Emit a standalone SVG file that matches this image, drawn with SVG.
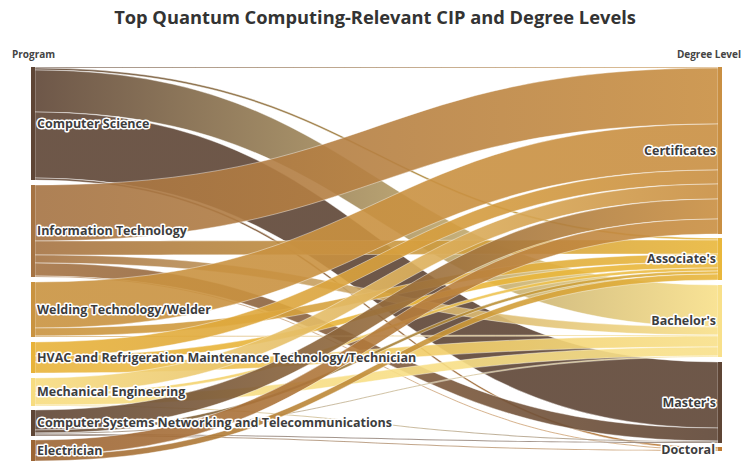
<svg xmlns="http://www.w3.org/2000/svg" width="755" height="461" viewBox="0 0 755 461">
<style>
.title{font-family:"Open Sans","Liberation Sans",sans-serif;font-weight:700;font-size:18.3px;fill:#333}
.axis{font-family:"Open Sans","Liberation Sans",sans-serif;font-weight:700;font-size:10px;fill:#444}
.lbl{font-family:"Open Sans","Liberation Sans",sans-serif;font-weight:700;font-size:12.5px;fill:#3d3d3d;stroke:#fff;stroke-width:3;stroke-linejoin:round;paint-order:stroke}
.r{text-anchor:end}
.lk path{fill-opacity:0.9;stroke:#fff;stroke-width:0.6;stroke-opacity:0.7}
</style>
<defs>
<linearGradient id="dk-ce" gradientUnits="userSpaceOnUse" x1="35" y1="0" x2="718" y2="0"><stop offset="0" stop-color="#5e4535"/><stop offset="1" stop-color="#c98f42"/></linearGradient>
<linearGradient id="dk-as" gradientUnits="userSpaceOnUse" x1="35" y1="0" x2="718" y2="0"><stop offset="0" stop-color="#5e4535"/><stop offset="1" stop-color="#e9b73b"/></linearGradient>
<linearGradient id="dk-ba" gradientUnits="userSpaceOnUse" x1="35" y1="0" x2="718" y2="0"><stop offset="0" stop-color="#5e4535"/><stop offset="1" stop-color="#f8e08a"/></linearGradient>
<linearGradient id="dk-ma" gradientUnits="userSpaceOnUse" x1="35" y1="0" x2="718" y2="0"><stop offset="0" stop-color="#5e4535"/><stop offset="1" stop-color="#5e4535"/></linearGradient>
<linearGradient id="dk-do" gradientUnits="userSpaceOnUse" x1="35" y1="0" x2="718" y2="0"><stop offset="0" stop-color="#5e4535"/><stop offset="1" stop-color="#bf7a30"/></linearGradient>
<linearGradient id="it-ce" gradientUnits="userSpaceOnUse" x1="35" y1="0" x2="718" y2="0"><stop offset="0" stop-color="#a57343"/><stop offset="1" stop-color="#c98f42"/></linearGradient>
<linearGradient id="it-as" gradientUnits="userSpaceOnUse" x1="35" y1="0" x2="718" y2="0"><stop offset="0" stop-color="#a57343"/><stop offset="1" stop-color="#e9b73b"/></linearGradient>
<linearGradient id="it-ba" gradientUnits="userSpaceOnUse" x1="35" y1="0" x2="718" y2="0"><stop offset="0" stop-color="#a57343"/><stop offset="1" stop-color="#f8e08a"/></linearGradient>
<linearGradient id="it-ma" gradientUnits="userSpaceOnUse" x1="35" y1="0" x2="718" y2="0"><stop offset="0" stop-color="#a57343"/><stop offset="1" stop-color="#5e4535"/></linearGradient>
<linearGradient id="it-do" gradientUnits="userSpaceOnUse" x1="35" y1="0" x2="718" y2="0"><stop offset="0" stop-color="#a57343"/><stop offset="1" stop-color="#bf7a30"/></linearGradient>
<linearGradient id="we-ce" gradientUnits="userSpaceOnUse" x1="35" y1="0" x2="718" y2="0"><stop offset="0" stop-color="#c99340"/><stop offset="1" stop-color="#c98f42"/></linearGradient>
<linearGradient id="we-as" gradientUnits="userSpaceOnUse" x1="35" y1="0" x2="718" y2="0"><stop offset="0" stop-color="#c99340"/><stop offset="1" stop-color="#e9b73b"/></linearGradient>
<linearGradient id="we-ba" gradientUnits="userSpaceOnUse" x1="35" y1="0" x2="718" y2="0"><stop offset="0" stop-color="#c99340"/><stop offset="1" stop-color="#f8e08a"/></linearGradient>
<linearGradient id="hv-ce" gradientUnits="userSpaceOnUse" x1="35" y1="0" x2="718" y2="0"><stop offset="0" stop-color="#e8b33a"/><stop offset="1" stop-color="#c98f42"/></linearGradient>
<linearGradient id="hv-as" gradientUnits="userSpaceOnUse" x1="35" y1="0" x2="718" y2="0"><stop offset="0" stop-color="#e8b33a"/><stop offset="1" stop-color="#e9b73b"/></linearGradient>
<linearGradient id="hv-ba" gradientUnits="userSpaceOnUse" x1="35" y1="0" x2="718" y2="0"><stop offset="0" stop-color="#e8b33a"/><stop offset="1" stop-color="#f8e08a"/></linearGradient>
<linearGradient id="me-ce" gradientUnits="userSpaceOnUse" x1="35" y1="0" x2="718" y2="0"><stop offset="0" stop-color="#f7dc80"/><stop offset="1" stop-color="#c98f42"/></linearGradient>
<linearGradient id="me-as" gradientUnits="userSpaceOnUse" x1="35" y1="0" x2="718" y2="0"><stop offset="0" stop-color="#f7dc80"/><stop offset="1" stop-color="#e9b73b"/></linearGradient>
<linearGradient id="me-ba" gradientUnits="userSpaceOnUse" x1="35" y1="0" x2="718" y2="0"><stop offset="0" stop-color="#f7dc80"/><stop offset="1" stop-color="#f8e08a"/></linearGradient>
<linearGradient id="me-ma" gradientUnits="userSpaceOnUse" x1="35" y1="0" x2="718" y2="0"><stop offset="0" stop-color="#f7dc80"/><stop offset="1" stop-color="#5e4535"/></linearGradient>
<linearGradient id="el-ce" gradientUnits="userSpaceOnUse" x1="35" y1="0" x2="718" y2="0"><stop offset="0" stop-color="#9c6535"/><stop offset="1" stop-color="#c98f42"/></linearGradient>
<linearGradient id="el-as" gradientUnits="userSpaceOnUse" x1="35" y1="0" x2="718" y2="0"><stop offset="0" stop-color="#9c6535"/><stop offset="1" stop-color="#e9b73b"/></linearGradient>
</defs>
<rect width="755" height="461" fill="#fff"/>
<text class="title" x="375" y="24" text-anchor="middle">Top Quantum Computing-Relevant CIP and Degree Levels</text>
<text class="axis" x="12" y="58">Program</text>
<text class="axis r" x="741" y="58">Degree Level</text>
<g id="links" class="lk">
<path fill="url(#dk-ce)" d="M35,67C376.5,67 376.5,67 718,67L718,68C376.5,68 376.5,68 35,68Z"/>
<path fill="url(#dk-as)" d="M35,68C376.5,68 376.5,238 718,238L718,240C376.5,240 376.5,70 35,70Z"/>
<path fill="url(#dk-ba)" d="M35,70C376.5,70 376.5,285 718,285L718,327C376.5,327 376.5,112 35,112Z"/>
<path fill="url(#dk-ma)" d="M35,112C376.5,112 376.5,362 718,362L718,428C376.5,428 376.5,178 35,178Z"/>
<path fill="url(#dk-do)" d="M35,178C376.5,178 376.5,447 718,447L718,449C376.5,449 376.5,180 35,180Z"/>
<path fill="url(#it-ce)" d="M35,185C376.5,185 376.5,68 718,68L718,124C376.5,124 376.5,241 35,241Z"/>
<path fill="url(#it-as)" d="M35,241C376.5,241 376.5,240 718,240L718,254C376.5,254 376.5,255 35,255Z"/>
<path fill="url(#it-ba)" d="M35,255C376.5,255 376.5,327 718,327L718,335C376.5,335 376.5,263 35,263Z"/>
<path fill="url(#it-ma)" d="M35,263C376.5,263 376.5,428 718,428L718,441C376.5,441 376.5,276 35,276Z"/>
<path fill="url(#it-do)" d="M35,276C376.5,276 376.5,449 718,449L718,450C376.5,450 376.5,277 35,277Z"/>
<path fill="url(#we-ce)" d="M35,282C376.5,282 376.5,124 718,124L718,170C376.5,170 376.5,328 35,328Z"/>
<path fill="url(#we-as)" d="M35,328C376.5,328 376.5,254 718,254L718,262C376.5,262 376.5,336 35,336Z"/>
<path fill="url(#we-ba)" d="M35,336C376.5,336 376.5,335 718,335L718,336C376.5,336 376.5,337 35,337Z"/>
<path fill="url(#hv-ce)" d="M35,342C376.5,342 376.5,170 718,170L718,184C376.5,184 376.5,356 35,356Z"/>
<path fill="url(#hv-as)" d="M35,356C376.5,356 376.5,262 718,262L718,268C376.5,268 376.5,362 35,362Z"/>
<path fill="url(#hv-ba)" d="M35,362C376.5,362 376.5,336 718,336L718,347C376.5,347 376.5,373 35,373Z"/>
<path fill="url(#me-ce)" d="M35,378C376.5,378 376.5,184 718,184L718,199C376.5,199 376.5,393 35,393Z"/>
<path fill="url(#me-as)" d="M35,393C376.5,393 376.5,268 718,268L718,271C376.5,271 376.5,396 35,396Z"/>
<path fill="url(#me-ba)" d="M35,396C376.5,396 376.5,347 718,347L718,356C376.5,356 376.5,405 35,405Z"/>
<path fill="url(#me-ma)" d="M35,405C376.5,405 376.5,441 718,441L718,442C376.5,442 376.5,406 35,406Z"/>
<path fill="url(#dk-ce)" d="M35,410C376.5,410 376.5,199 718,199L718,219C376.5,219 376.5,430 35,430Z"/>
<path fill="url(#dk-as)" d="M35,430C376.5,430 376.5,271 718,271L718,274C376.5,274 376.5,433 35,433Z"/>
<path fill="url(#dk-ba)" d="M35,433C376.5,433 376.5,356 718,356L718,357C376.5,357 376.5,434 35,434Z"/>
<path fill="url(#dk-ma)" d="M35,434C376.5,434 376.5,442 718,442L718,443C376.5,443 376.5,435 35,435Z"/>
<path fill="url(#dk-do)" d="M35,435C376.5,435 376.5,450 718,450L718,451C376.5,451 376.5,436 35,436Z"/>
<path fill="url(#el-ce)" d="M35,440C376.5,440 376.5,219 718,219L718,234C376.5,234 376.5,455 35,455Z"/>
<path fill="url(#el-as)" d="M35,455C376.5,455 376.5,274 718,274L718,280C376.5,280 376.5,461 35,461Z"/>
</g>
<g id="n-cs"><rect x="31" y="67" width="4" height="113" fill="#5e4535"/><text class="lbl" x="37" y="128">Computer Science</text></g>
<g id="n-it"><rect x="31" y="185" width="4" height="92" fill="#a57343"/><text class="lbl" x="37" y="235">Information Technology</text></g>
<g id="n-we"><rect x="31" y="282" width="4" height="55" fill="#c99340"/><text class="lbl" x="37" y="314">Welding Technology/Welder</text></g>
<g id="n-hv"><rect x="31" y="342" width="4" height="31" fill="#e8b33a"/><text class="lbl" x="37" y="362">HVAC and Refrigeration Maintenance Technology/Technician</text></g>
<g id="n-me"><rect x="31" y="378" width="4" height="28" fill="#f7dc80"/><text class="lbl" x="37" y="396">Mechanical Engineering</text></g>
<g id="n-csn"><rect x="31" y="410" width="4" height="26" fill="#5e4535"/><text class="lbl" x="37" y="427">Computer Systems Networking and Telecommunications</text></g>
<g id="n-el"><rect x="31" y="440" width="4" height="21" fill="#9c6535"/><text class="lbl" x="37" y="455">Electrician</text></g>
<g id="n-ce"><rect x="718" y="67" width="4" height="167" fill="#c98f42"/><text class="lbl r" x="716" y="155">Certificates</text></g>
<g id="n-as"><rect x="718" y="238" width="4" height="42" fill="#e9b73b"/><text class="lbl r" x="716" y="263">Associate's</text></g>
<g id="n-ba"><rect x="718" y="285" width="4" height="72" fill="#f8e08a"/><text class="lbl r" x="716" y="325">Bachelor's</text></g>
<g id="n-ma"><rect x="718" y="362" width="4" height="81" fill="#5e4535"/><text class="lbl r" x="716" y="407">Master's</text></g>
<g id="n-do"><rect x="718" y="447" width="4" height="4" fill="#bf7a30"/><text class="lbl r" x="715" y="454">Doctoral</text></g>
</svg>
